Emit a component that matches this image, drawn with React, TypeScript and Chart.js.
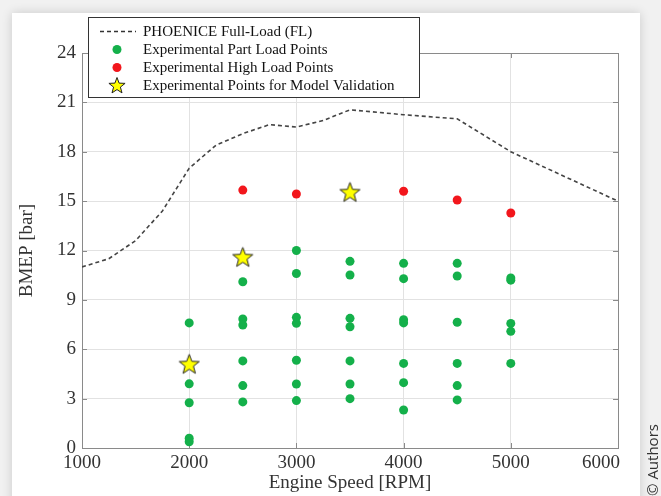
import React, { useEffect, useRef } from "react";
import { Chart, registerables } from "chart.js";
Chart.register(...registerables);

// Full-load curve
const flRpm = [1000, 1250, 1500, 1750, 2000, 2250, 2500, 2750, 3000, 3250, 3500, 4000, 4500, 5000, 5500, 6000];
const flBmep = [11.0, 11.5, 12.6, 14.4, 17.0, 18.4, 19.1, 19.65, 19.5, 19.9, 20.55, 20.25, 20.0, 18.0, 16.5, 15.0];

// Part load points
const partRpm = [
  2000, 2000, 2000, 2000, 2000,
  2500, 2500, 2500, 2500, 2500, 2500,
  3000, 3000, 3000, 3000, 3000, 3000, 3000,
  3500, 3500, 3500, 3500, 3500, 3500, 3500,
  4000, 4000, 4000, 4000, 4000, 4000, 4000,
  4500, 4500, 4500, 4500, 4500, 4500,
  5000, 5000, 5000, 5000, 5000,
];
const partBmep = [
  7.6, 3.9, 2.75, 0.6, 0.38,
  10.1, 7.84, 7.47, 5.29, 3.79, 2.8,
  12.0, 10.6, 7.94, 7.58, 5.33, 3.89, 2.88,
  11.34, 10.51, 7.88, 7.37, 5.29, 3.89, 3.0,
  11.22, 10.29, 7.8, 7.6, 5.14, 3.97, 2.31,
  11.22, 10.45, 7.64, 5.14, 3.79, 2.92,
  10.33, 10.2, 7.57, 7.09, 5.14,
];

// High load points
const highRpm = [2500, 3000, 4000, 4500, 5000];
const highBmep = [15.67, 15.43, 15.6, 15.07, 14.28];

// Validation points
const valRpm = [2000, 2500, 3500];
const valBmep = [5.1, 11.6, 15.55];

const xTicks = [1000, 2000, 3000, 4000, 5000, 6000];
const yTicks = [0, 3, 6, 9, 12, 15, 18, 21, 24];

const labels = [
  "PHOENICE Full-Load (FL)",
  "Experimental Part Load Points",
  "Experimental High Load Points",
  "Experimental Points for Model Validation",
];

const GREEN = "#14b04a";
const RED = "#f2161c";
const YELLOW = "#ffff00";
const SERIF = "'Liberation Serif', 'Times New Roman', serif";

function starPath(ctx: CanvasRenderingContext2D, cx: number, cy: number, R: number, r: number) {
  ctx.beginPath();
  for (let i = 0; i < 10; i++) {
    const rad = i % 2 === 0 ? R : r;
    const a = -Math.PI / 2 + (i * Math.PI) / 5;
    const x = cx + rad * Math.cos(a);
    const y = cy + rad * Math.sin(a);
    if (i === 0) ctx.moveTo(x, y);
    else ctx.lineTo(x, y);
  }
  ctx.closePath();
}

function drawStar(ctx: CanvasRenderingContext2D, cx: number, cy: number, R: number) {
  ctx.save();
  starPath(ctx, cx, cy, R, R * 0.42);
  ctx.fillStyle = YELLOW;
  ctx.fill();
  ctx.lineWidth = 1;
  ctx.strokeStyle = "#222";
  ctx.stroke();
  ctx.restore();
}

function makeStarImage(R: number) {
  const c = document.createElement("canvas");
  const s = Math.ceil(R * 2 + 4);
  c.width = s;
  c.height = s;
  const ctx = c.getContext("2d")!;
  drawStar(ctx, s / 2, s / 2 + 0.8, R);
  return c;
}

const bgPlugin = {
  id: "bgCard",
  beforeDraw(chart: any) {
    const ctx = chart.ctx as CanvasRenderingContext2D;
    ctx.save();
    ctx.fillStyle = "#f1f1f1";
    ctx.fillRect(0, 0, chart.width, chart.height);
    ctx.shadowColor = "rgba(0,0,0,0.16)";
    ctx.shadowBlur = 10;
    ctx.fillStyle = "#ffffff";
    ctx.fillRect(12, 13, 628, 520);
    ctx.restore();
    // copyright note
    ctx.save();
    ctx.translate(654, 496);
    ctx.rotate(-Math.PI / 2);
    ctx.font = "15px 'Open Sans', sans-serif";
    ctx.fillStyle = "#333";
    ctx.textAlign = "left";
    ctx.textBaseline = "middle";
    ctx.fillText("© Authors", 0, 0);
    ctx.restore();
    // last x tick label right-aligned to the axis end
    try {
      const items = chart.scales.x.getLabelItems();
      const last = items[items.length - 1];
      if (last && last.options && last.options.translation) {
        last.options.textAlign = "right";
        last.options.translation[0] = chart.chartArea.right + 2;
      }
    } catch (e) {}
  },
};

const boxPlugin = {
  id: "boxTicks",
  beforeDatasetsDraw(chart: any) {
    const { ctx, chartArea, scales } = chart;
    const { left, right, top, bottom } = chartArea;
    ctx.save();
    ctx.strokeStyle = "#8a8a8a";
    ctx.lineWidth = 1;
    ctx.strokeRect(Math.round(left) + 0.5, Math.round(top) + 0.5, Math.round(right - left), Math.round(bottom - top));
    ctx.beginPath();
    xTicks.forEach((v) => {
      const x = Math.round(scales.x.getPixelForValue(v)) + 0.5;
      ctx.moveTo(x, bottom);
      ctx.lineTo(x, bottom - 5);
      ctx.moveTo(x, top);
      ctx.lineTo(x, top + 5);
    });
    yTicks.forEach((v) => {
      const y = Math.round(scales.y.getPixelForValue(v)) + 0.5;
      ctx.moveTo(left, y);
      ctx.lineTo(left + 5, y);
      ctx.moveTo(right, y);
      ctx.lineTo(right - 5, y);
    });
    ctx.stroke();
    ctx.restore();
  },
};

const legendPlugin = {
  id: "boxLegend",
  afterDraw(chart: any) {
    const ctx = chart.ctx as CanvasRenderingContext2D;
    const x0 = 88, y0 = 17, w = 331, h = 80;
    ctx.save();
    ctx.fillStyle = "#fff";
    ctx.fillRect(x0, y0, w, h);
    ctx.strokeStyle = "#333";
    ctx.lineWidth = 1;
    ctx.strokeRect(x0 + 0.5, y0 + 0.5, w, h);
    const rowY = (i: number) => 31.5 + i * 18;
    // dashed line
    ctx.beginPath();
    ctx.setLineDash([4, 3]);
    ctx.strokeStyle = "#333";
    ctx.lineWidth = 1.5;
    ctx.moveTo(100, rowY(0));
    ctx.lineTo(136, rowY(0));
    ctx.stroke();
    ctx.setLineDash([]);
    ctx.fillStyle = GREEN;
    ctx.beginPath();
    ctx.arc(117, rowY(1), 4.5, 0, Math.PI * 2);
    ctx.fill();
    ctx.fillStyle = RED;
    ctx.beginPath();
    ctx.arc(117, rowY(2), 4.5, 0, Math.PI * 2);
    ctx.fill();
    drawStar(ctx, 117, rowY(3) + 0.5, 8.5);
    ctx.fillStyle = "#111";
    ctx.font = `15px ${SERIF}`;
    ctx.textBaseline = "middle";
    ctx.textAlign = "left";
    labels.forEach((t, i) => ctx.fillText(t, 143, rowY(i) + 1));
    ctx.restore();
  },
};

export default function App() {
  const ref = useRef<HTMLCanvasElement>(null);
  useEffect(() => {
    if (!ref.current) return;
    const starImg = makeStarImage(10.5);
    const chart = new Chart(ref.current, {
      type: "scatter",
      data: {
        datasets: [
          {
            type: "line",
            label: labels[0],
            data: flRpm.map((x, i) => ({ x, y: flBmep[i] })),
            borderColor: "#444",
            borderWidth: 1.6,
            borderDash: [4, 3],
            pointRadius: 0,
            fill: false,
            tension: 0,
            order: 3,
          } as any,
          {
            label: labels[1],
            data: partRpm.map((x, i) => ({ x, y: partBmep[i] })),
            backgroundColor: GREEN,
            borderWidth: 0,
            pointRadius: 4.5,
            order: 2,
          },
          {
            label: labels[2],
            data: highRpm.map((x, i) => ({ x, y: highBmep[i] })),
            backgroundColor: RED,
            borderWidth: 0,
            pointRadius: 4.5,
            order: 1,
          },
          {
            label: labels[3],
            data: valRpm.map((x, i) => ({ x, y: valBmep[i] })),
            pointStyle: starImg as any,
            pointRadius: 11,
            order: 0,
          },
        ],
      },
      plugins: [bgPlugin, boxPlugin, legendPlugin],
      options: {
        responsive: false,
        animation: false,
        devicePixelRatio: 1,
        layout: { padding: { left: 10, top: 53, right: 43, bottom: 0 } },
        plugins: { legend: { display: false }, tooltip: { enabled: false } },
        scales: {
          x: {
            type: "linear",
            min: 1000,
            max: 6000,
            afterFit: (s: any) => { s.height = 48; },
            afterBuildTicks: (s: any) => { s.ticks = xTicks.map((v) => ({ value: v })); },
            grid: { color: "#e2e2e2", drawTicks: false },
            border: { display: false },
            ticks: {
              padding: 4,
              color: "#333",
              font: { family: SERIF, size: 19 },
              maxRotation: 0,
              autoSkip: false,
              callback: (v: any) => String(v),
            },
            title: {
              display: true,
              text: "Engine Speed [RPM]",
              color: "#333",
              font: { family: SERIF, size: 19 },
              padding: { top: 0, bottom: 2 },
            },
          },
          y: {
            type: "linear",
            min: 0,
            max: 24,
            afterFit: (s: any) => { s.width = 72; },
            afterBuildTicks: (s: any) => { s.ticks = yTicks.map((v) => ({ value: v })); },
            grid: { color: "#e2e2e2", drawTicks: false },
            border: { display: false },
            ticks: {
              padding: 6,
              color: "#333",
              font: { family: SERIF, size: 19 },
              autoSkip: false,
              callback: (v: any) => String(v),
            },
            title: {
              display: true,
              text: "BMEP [bar]",
              color: "#333",
              font: { family: SERIF, size: 19 },
              padding: { top: 6, bottom: 0 },
            },
          },
        },
      },
    });
    return () => chart.destroy();
  }, []);
  return (
    <div style={{ position: "absolute", left: 0, top: 0, width: 661, height: 496 }}>
      <canvas ref={ref} width={661} height={496} style={{ display: "block", width: 661, height: 496 }} />
    </div>
  );
}
